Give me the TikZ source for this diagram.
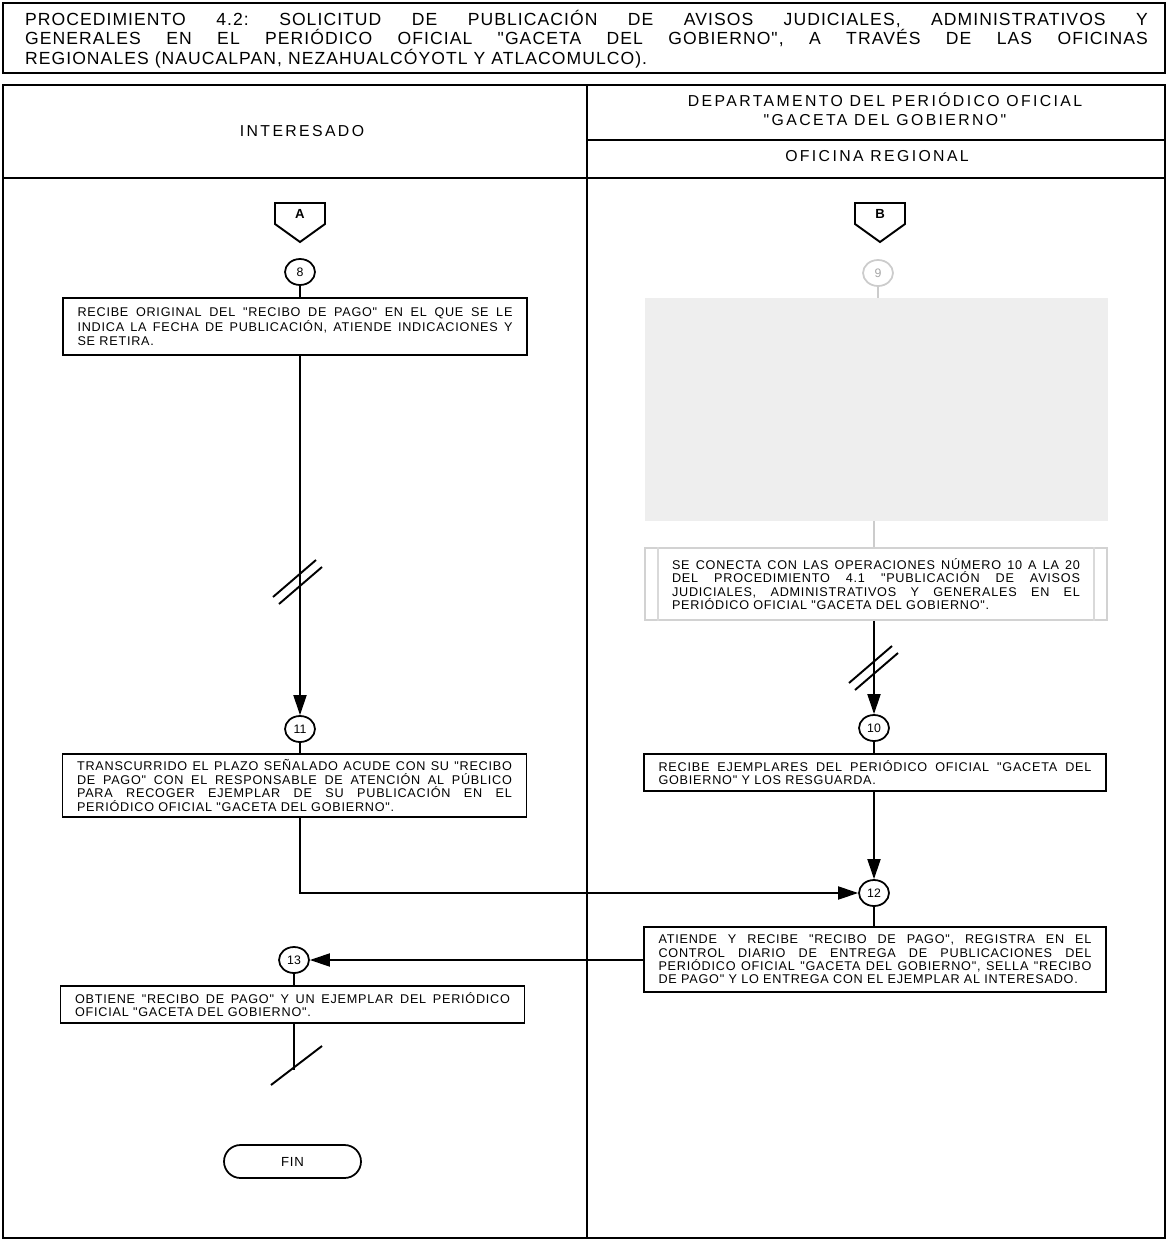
\documentclass[tikz,border=0pt]{standalone}
\usepackage{fontspec}
\setmainfont{Liberation Sans}
\newfontfamily\headfont[LetterSpace=15]{Liberation Sans}
\newfontfamily\titlefont[LetterSpace=6]{Liberation Sans}
\newfontfamily\boxfont[LetterSpace=6]{Liberation Sans}
\usetikzlibrary{arrows.meta,shapes.geometric}

\tikzset{
  laneline/.style={line width=0.9pt},
  headtext/.style={align=center, inner sep=0pt, font=\headfont\fontsize{9}{10.5}\selectfont},
  titletext/.style={text width=22.46cm, align=justify, inner sep=0pt, font=\titlefont\fontsize{10}{11}\selectfont},
  actbox/.style={draw, line width=1pt, inner xsep=0.29cm, inner ysep=0pt, align=justify, font=\boxfont\fontsize{7.2}{7.6}\selectfont},
  opnum/.style={draw, ellipse, line width=1pt, minimum width=0.6cm, minimum height=0.52cm, inner sep=0pt, font=\fontsize{7}{7}\selectfont},
  faded/.style={draw=gray!40, text=gray!70},
  flow/.style={line width=1.1pt},
  arrowed/.style={-{Triangle[length=0.4cm,width=0.26cm]}},
}

\begin{document}
\frenchspacing
\begin{tikzpicture}[x=0.02cm,y=-0.02cm]
\useasboundingbox (0,0) rectangle (1168,1240);

%title
\draw [laneline] (3,3) rectangle (1165,73);
\node [titletext] (head) at (586.5,39) {PROCEDIMIENTO 4.2: SOLICITUD DE PUBLICACIÓN DE AVISOS JUDICIALES, ADMINISTRATIVOS Y\linebreak GENERALES EN EL PERIÓDICO OFICIAL "GACETA DEL GOBIERNO", A TRAVÉS DE LAS OFICINAS\linebreak REGIONALES (NAUCALPAN, NEZAHUALCÓYOTL Y ATLACOMULCO).};

%lanes
\draw [laneline] (3,85) rectangle (1165,1238);
\draw [laneline] (587,85) -- (587,1238);
\draw [laneline] (3,178) -- (1165,178);
\draw [laneline] (587,140) -- (1165,140);
\node [headtext] (who) at (302,131) {INTERESADO};
\node [headtext] (dept) at (885,109) {DEPARTAMENTO DEL PERIÓDICO OFICIAL\\"GACETA DEL GOBIERNO"};
\node [headtext] (office) at (877,156) {OFICINA REGIONAL};

%off-page connectors
\foreach \x/\l/\n in {300/A/offA,880/B/offB}{
  \draw [flow] ({\x-25},203) -- ({\x+25},203) -- ({\x+25},224) -- (\x,242) -- ({\x-25},224) -- cycle;
  \node [font=\fontsize{7.5}{8}\selectfont\bfseries] (\n) at (\x,214) {\l};
}

%interesado
\node [opnum] (c8) at (300,272) {8};
\node [actbox, text width=8.7cm, minimum height=1.14cm] (act8) at (295,326.5) {RECIBE ORIGINAL DEL "RECIBO DE PAGO" EN EL QUE SE LE\linebreak INDICA LA FECHA DE PUBLICACIÓN, ATIENDE INDICACIONES Y\linebreak SE RETIRA.};
\node [opnum] (c11) at (300,729) {11};
\node [actbox, text width=8.7cm, minimum height=1.26cm] (act11) at (294.5,785.5) {TRANSCURRIDO EL PLAZO SEÑALADO ACUDE CON SU "RECIBO\linebreak DE PAGO" CON EL RESPONSABLE DE ATENCIÓN AL PÚBLICO\linebreak PARA RECOGER EJEMPLAR DE SU PUBLICACIÓN EN EL\linebreak PERIÓDICO OFICIAL "GACETA DEL GOBIERNO".};
\node [opnum] (c13) at (294,960) {13};
\node [actbox, text width=8.7cm, minimum height=0.74cm] (act13) at (292.5,1004.5) {OBTIENE "RECIBO DE PAGO" Y UN EJEMPLAR DEL PERIÓDICO\linebreak OFICIAL "GACETA DEL GOBIERNO".};
\coordinate (end13) at (294,1070);
\node [draw, line width=1pt, rounded corners=0.33cm, minimum width=2.74cm, minimum height=0.66cm, font=\boxfont\fontsize{7.5}{8}\selectfont] (fin) at (292.5,1161.5) {FIN};

%oficina regional
\node [opnum, faded] (c9) at (878,273) {9};
\node [fill=gray!13, minimum width=9.26cm, minimum height=4.46cm, inner sep=0pt] (blank9) at (876.5,409.5) {};
\node [actbox, draw=gray!35, inner xsep=0.54cm, text width=8.16cm, minimum height=1.44cm] (link) at (876,584) {SE CONECTA CON LAS OPERACIONES NÚMERO 10 A LA 20\linebreak DEL PROCEDIMIENTO 4.1 "PUBLICACIÓN DE AVISOS\linebreak JUDICIALES, ADMINISTRATIVOS Y GENERALES EN EL\linebreak PERIÓDICO OFICIAL "GACETA DEL GOBIERNO".};
\draw [gray!30, line width=1pt] ([xshift=0.28cm]link.north west) -- ([xshift=0.28cm]link.south west);
\draw [gray!30, line width=1pt] ([xshift=-0.28cm]link.north east) -- ([xshift=-0.28cm]link.south east);
\node [opnum] (c10) at (874,728) {10};
\node [actbox, text width=8.66cm, minimum height=0.74cm] (act10) at (875,772.5) {RECIBE EJEMPLARES DEL PERIÓDICO OFICIAL "GACETA DEL\linebreak GOBIERNO" Y LOS RESGUARDA.};
\node [opnum] (c12) at (874,893) {12};
\node [actbox, text width=8.66cm, minimum height=1.3cm] (act12) at (875,959.5) {ATIENDE Y RECIBE "RECIBO DE PAGO", REGISTRA EN EL\linebreak CONTROL DIARIO DE ENTREGA DE PUBLICACIONES DEL\linebreak PERIÓDICO OFICIAL "GACETA DEL GOBIERNO", SELLA "RECIBO\linebreak DE PAGO" Y LO ENTREGA CON EL EJEMPLAR AL INTERESADO.};

%connectors
\path [flow] (c8) edge (c8 |- act8.north);
\path [flow, arrowed] (c8 |- act8.south) edge (c11);
\path [flow] (c11) edge (c11 |- act11.north);
\draw [flow, arrowed] (c11 |- act11.south) |- (c12);
\path [flow] (c13) edge (c13 |- act13.north);
\path [flow] (c13 |- act13.south) edge (end13);
\path [flow, gray!40] (c9) edge (c9 |- blank9.north);
\path [flow, gray!40] (c10 |- blank9.south) edge (c10 |- link.north);
\path [flow, arrowed] (c10 |- link.south) edge (c10);
\path [flow] (c10) edge (c10 |- act10.north);
\path [flow, arrowed] (c12 |- act10.south) edge (c12);
\path [flow] (c12) edge (c12 |- act12.north);
\path [flow, arrowed] (act12.west |- c13) edge (c13);

%breaks
\draw [flow] (273,597) -- (316,560);
\draw [flow] (279,604) -- (322,567);
\draw [flow] (849,683) -- (892,646);
\draw [flow] (855,690) -- (898,653);
\draw [flow] (271,1085) -- (322,1046);
\end{tikzpicture}
\end{document}
